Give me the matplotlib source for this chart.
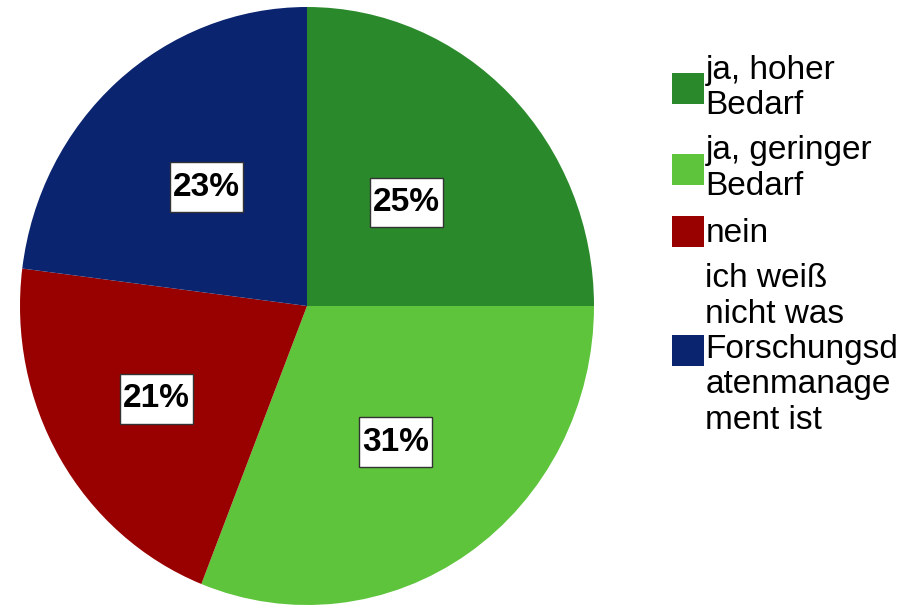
import numpy as np
import matplotlib
matplotlib.use("Agg")
import matplotlib.pyplot as plt
from matplotlib.patches import Patch
from matplotlib.path import Path

categories = ["ja, hoher\nBedarf", "ja, geringer\nBedarf", "nein",
              "ich weiß\nnicht was\nForschungsd\natenmanage\nment ist"]
shares = [25, 31, 21, 23]
colors = ["#2a8a2b", "#5ec43b", "#990000", "#0b2470"]
# radial position of each percentage box (fraction of radius)
label_dist = [0.49, 0.55, 0.61, 0.53]

plt.rcParams["font.family"] = ["Liberation Sans", "DejaVu Sans"]


def tall_box(x0, y0, width, height, mutation_size, padx=0.1, pady=0.28):
    # square box with more padding above/below than left/right
    px, py = padx * mutation_size, pady * mutation_size
    x0, y0 = x0 - px, y0 - py
    x1, y1 = x0 + width + 2 * px, y0 + height + 2 * py
    return Path([(x0, y0), (x1, y0), (x1, y1), (x0, y1), (x0, y0)], closed=True)


fig = plt.figure(figsize=(9.08, 6.06), dpi=100)
# reference pie is slightly taller than wide
ax = fig.add_axes([20 / 908, 1 / 606, 574 / 908, 598 / 606])
wedges, _ = ax.pie(shares, colors=colors, startangle=90, counterclock=False,
                   radius=1.0, wedgeprops=dict(linewidth=0))
ax.set_xlim(-1, 1)
ax.set_ylim(-1, 1)
ax.set_aspect("auto")
ax.axis("off")

for w, v, d in zip(wedges, shares, label_dist):
    mid = np.deg2rad((w.theta1 + w.theta2) / 2)
    ax.text(d * np.cos(mid), d * np.sin(mid), f"{v}%", ha="center", va="center",
            fontsize=24, fontweight="bold", color="black",
            bbox=dict(boxstyle=tall_box, fc="white", ec="#333333", lw=1))

handles = [Patch(facecolor=c, edgecolor="none") for c in colors]
leg = fig.legend(handles, categories, loc="upper left",
                 bbox_to_anchor=(672 / 908, 1 - 55 / 606), frameon=False,
                 fontsize=24, handlelength=0.95, handleheight=1.05, handletextpad=0.05,
                 labelspacing=0.42, borderpad=0, borderaxespad=0)
for t in leg.get_texts():
    t.set_linespacing(1.18)

fig.savefig("out.png", dpi=100)
